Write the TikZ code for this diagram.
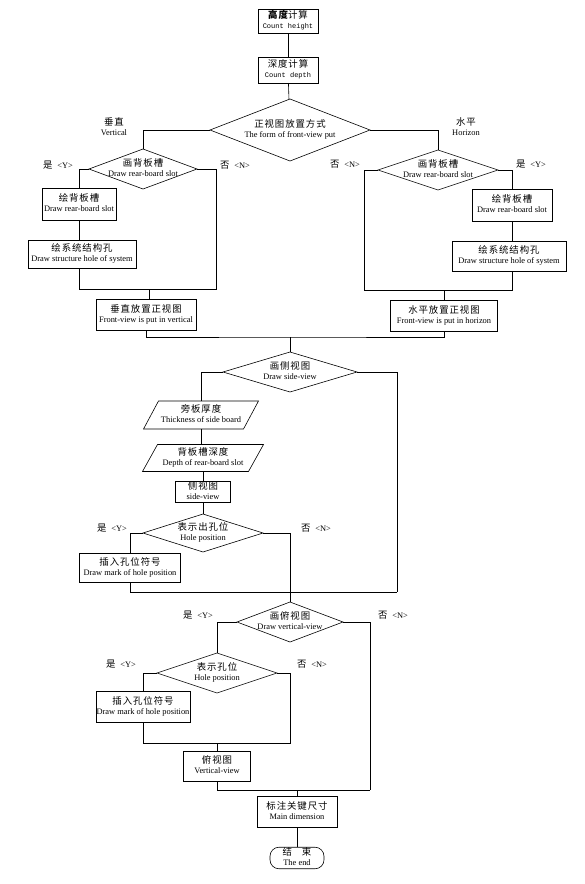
\documentclass[tikz,border=0pt]{standalone}
\usepackage{fontspec}
\setmainfont{Liberation Serif}
\newfontfamily\cjk[Scale=1.12,LetterSpace=10]{Noto Sans CJK SC}
\newfontfamily\mono{Liberation Mono}
\usetikzlibrary{shapes.geometric}
\newcommand{\twoline}[2]{\makebox[0pt]{\begin{tabular}{@{}c@{}}{\cjk #1}\\#2\end{tabular}}}
\newcommand{\yes}{{\cjk 是}\hspace{5pt}<Y>}
\newcommand{\no}{{\cjk 否}\hspace{5pt}<N>}

\begin{document}
\begin{tikzpicture}[x=1pt,y=-1pt,line width=0.6pt,
  font=\fontsize{8.4}{10.5}\selectfont,
  every node/.style={inner sep=0pt,outer sep=0pt},
  sz/.style 2 args={minimum width=#1pt,minimum height=#2pt},
  box/.style={draw,rectangle},
  choice/.style={draw,diamond},
  data/.style={rectangle},
  endbox/.style={draw,rounded corners=9pt}]
\useasboundingbox (0,0) rectangle (585,884);

% top
\node[box,sz={60}{24}] (height) at (288,21) {\twoline{{\bfseries 高度}计算}{{\mono\fontsize{7}{10}\selectfont Count height}}};
\node[box,sz={60}{26}] (depth) at (288,70) {\twoline{深度计算}{{\mono\fontsize{7}{10}\selectfont Count depth}}};
\node[choice,sz={160}{62}] (form) at (290,130) {\twoline{正视图放置方式}{The form of front-view put}};
\node (vlab) at (114,128) {\twoline{垂直}{Vertical}};
\node (hlab) at (466,128) {\twoline{水平}{Horizon}};

% vertical branch
\node[choice,sz={108}{40}] (slotL) at (143,169) {\twoline{画背板槽}{Draw rear-board slot}};
\node[box,sz={74}{32}] (drawL) at (79,204) {\twoline{绘背板槽}{Draw rear-board slot}};
\node[box,sz={108}{28}] (holeL) at (82,254) {\twoline{绘系统结构孔}{Draw structure hole of system}};
\node[box,sz={100}{31}] (vert) at (146,315) {\twoline{垂直放置正视图}{Front-view is put in vertical}};
\coordinate (mL) at (149,289);

% horizontal branch
\node[choice,sz={120}{40}] (slotR) at (438,170) {\twoline{画背板槽}{Draw rear-board slot}};
\node[box,sz={80}{32}] (drawR) at (512,205) {\twoline{绘背板槽}{Draw rear-board slot}};
\node[box,sz={114}{30}] (holeR) at (509,256) {\twoline{绘系统结构孔}{Draw structure hole of system}};
\node[box,sz={107}{31}] (horiz) at (444,316) {\twoline{水平放置正视图}{Front-view is put in horizon}};
\coordinate (mR) at (444,290);

% side view
\coordinate (m1) at (290,337);
\node[choice,sz={134}{40}] (side) at (290,372) {\twoline{画侧视图}{Draw side-view}};
\node[data,sz={100}{28}] (thick) at (201,415) {\twoline{旁板厚度}{Thickness of side board}};
\node[data,sz={106}{27}] (slotdep) at (203,458) {\twoline{背板槽深度}{Depth of rear-board slot}};
\foreach \n in {thick,slotdep}
  \draw ([xshift=-7.5pt]\n.south west) -- ([xshift=7.5pt]\n.north west)
     -- ([xshift=7.5pt]\n.north east) -- ([xshift=-7.5pt]\n.south east) -- cycle;
\node[box,sz={55}{21}] (sv) at (203,492) {\twoline{侧视图}{side-view}};
\node[choice,sz={120}{38}] (hole1) at (203,533) {\twoline{表示出孔位}{Hole position}};
\node[box,sz={101}{29}] (mark1) at (130,568) {\twoline{插入孔位符号}{Draw mark of hole position}};
\coordinate (r1) at (397,592);

% vertical view
\node[choice,sz={106}{40}] (vv) at (290,622) {\twoline{画俯视图}{Draw vertical-view}};
\node[choice,sz={120}{40}] (hole2) at (217,673) {\twoline{表示孔位}{Hole position}};
\node[box,sz={94}{31}] (mark2) at (143,707) {\twoline{插入孔位符号}{Draw mark of hole position}};
\coordinate (m3) at (217,743);
\node[box,sz={67}{30}] (vview) at (217,766) {\twoline{俯视图}{Vertical-view}};
\coordinate (r2) at (370,790);

% end
\node[box,sz={80}{31}] (dim) at (297,812) {\twoline{标注关键尺寸}{Main dimension}};
\node[endbox,sz={54}{20}] (end) at (297,858) {\twoline{结\hspace{10pt}束}{The end}};

% yes / no labels
\foreach \x/\y in {58/165,531/164,112/528,198/615,121/664}
  \node (yes\x) at (\x,\y) {\yes};
\foreach \x/\y in {235/165,345/164,316/528,393/615,312/664}
  \node (no\x) at (\x,\y) {\no};

% connectors
\draw (height) -- (depth);
\draw (depth) -- (form);
\draw (form.west) -| (slotL.north);
\draw (form.east) -| (slotR.north);

\draw (slotL.west) -| (drawL.north);
\draw (drawL.south) -- (drawL.south |- holeL.north);
\draw (drawL.south |- holeL.south) |- (mL);
\draw (slotL.east) -- ++(19,0) |- (mL);
\draw (mL) -- (mL |- vert.north);

\draw (slotR.east) -| (drawR.north);
\draw (drawR.south) -- (drawR.south |- holeR.north);
\draw (drawR.south |- holeR.south) |- (mR);
\draw (slotR.west) -- ++(-14,0) |- (mR);
\draw (mR) -- (mR |- horiz.north);

\draw (vert.south) |- (m1) -| (horiz.south);
\draw (m1) -- (side);
\draw (side.west) -| (thick.north);
\draw (thick.south) -- (thick.south |- slotdep.north);
\draw (slotdep.south) -- (slotdep.south |- sv.north);
\draw (sv) -- (hole1);
\draw (hole1.west) -| (mark1.north);
\draw (mark1.south) |- (r1);
\draw (side.east) -| (r1);
\draw (hole1.east) -| (vv.north);

\draw (vv.west) -| (hole2.north);
\draw (vv.east) -| (r2);
\draw (hole2.west) -| (mark2.north);
\draw (mark2.south) |- (m3);
\draw (hole2.east) -- ++(13,0) |- (m3);
\draw (m3) -- (vview);
\draw (vview.south) |- (r2);
\draw (dim) -- (dim.north |- r2);
\draw (dim) -- (end);
\end{tikzpicture}
\end{document}
